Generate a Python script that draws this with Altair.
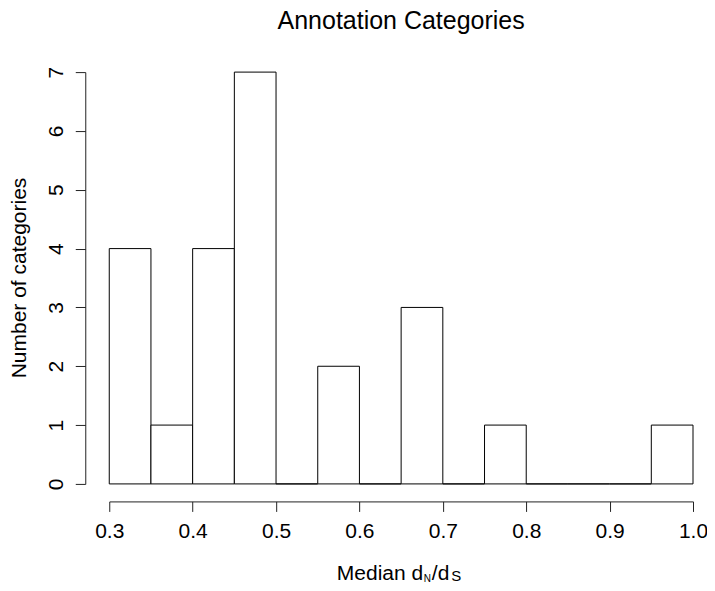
import altair as alt
import pandas as pd

# histogram bins of median dN/dS
bin_start = [0.30, 0.35, 0.40, 0.45, 0.50, 0.55, 0.60, 0.65, 0.70, 0.75, 0.80, 0.85, 0.90, 0.95]
bin_end   = [0.35, 0.40, 0.45, 0.50, 0.55, 0.60, 0.65, 0.70, 0.75, 0.80, 0.85, 0.90, 0.95, 1.00]
counts    = [4, 1, 4, 7, 0, 2, 0, 3, 0, 1, 0, 0, 0, 1]

x_ticks = [0.3, 0.4, 0.5, 0.6, 0.7, 0.8, 0.9, 1.0]
y_ticks = [0, 1, 2, 3, 4, 5, 6, 7]

title_text = "Annotation Categories"
y_title = "Number of categories"

df = pd.DataFrame({"start": bin_start, "end": bin_end, "count": counts})

FONT = "Liberation Sans"
W, H = 584, 412
AX = "#222222"

x_scale = alt.Scale(domain=[0.3, 1.0], nice=False, zero=False)
y_scale = alt.Scale(domain=[0, 7], nice=False)

bars = alt.Chart(df).mark_bar(
    fill="white", stroke="black", strokeWidth=1, opacity=1
).encode(
    x=alt.X("start:Q", scale=x_scale,
            axis=alt.Axis(values=x_ticks, format=".1f", title=None, grid=False,
                          offset=17.5, tickSize=10, labelPadding=9,
                          labelFontSize=21, labelFont=FONT, labelColor="black",
                          domainColor=AX, tickColor=AX, labelFlush=False)),
    x2="end:Q",
    y=alt.Y("count:Q", scale=y_scale,
            axis=alt.Axis(values=y_ticks, format="d", title=None, grid=False,
                          offset=24, tickSize=10, labelPadding=13,
                          labelAngle=270, labelAlign="center", labelBaseline="alphabetic",
                          labelFontSize=21, labelFont=FONT, labelColor="black",
                          domainColor=AX, tickColor=AX, labelFlush=False)),
    y2=alt.datum(0),
)

def txt(text, x, y, size, angle=0, align="left"):
    return alt.Chart(pd.DataFrame({"t": [text]})).mark_text(
        font=FONT, fontSize=size, color="black", align=align,
        baseline="alphabetic", angle=angle
    ).encode(text="t:N", x=alt.value(x), y=alt.value(y))

title = txt(title_text, W / 2, -43.5, 25, align="center")
ytitle = txt(y_title, -83, H / 2, 21, angle=270, align="center")

# x axis title with subscripts: Median d_N/d_S
xt1 = txt("Median d", 227.7, 508, 21)
xt2 = txt("N", 314.7, 510, 10)
xt3 = txt("/d", 322.7, 508, 21)
xt4 = txt("S", 342.2, 509.5, 15)

chart = alt.layer(bars, title, ytitle, xt1, xt2, xt3, xt4).properties(
    width=W, height=H,
    background="white",
    autosize=alt.AutoSizeParams(type="none"),
    padding={"left": 101.3, "top": 64, "right": 14, "bottom": 99},
).configure_view(stroke="transparent", strokeWidth=0)

chart.save("out.html", embed_options={"renderer": "svg", "actions": False})
